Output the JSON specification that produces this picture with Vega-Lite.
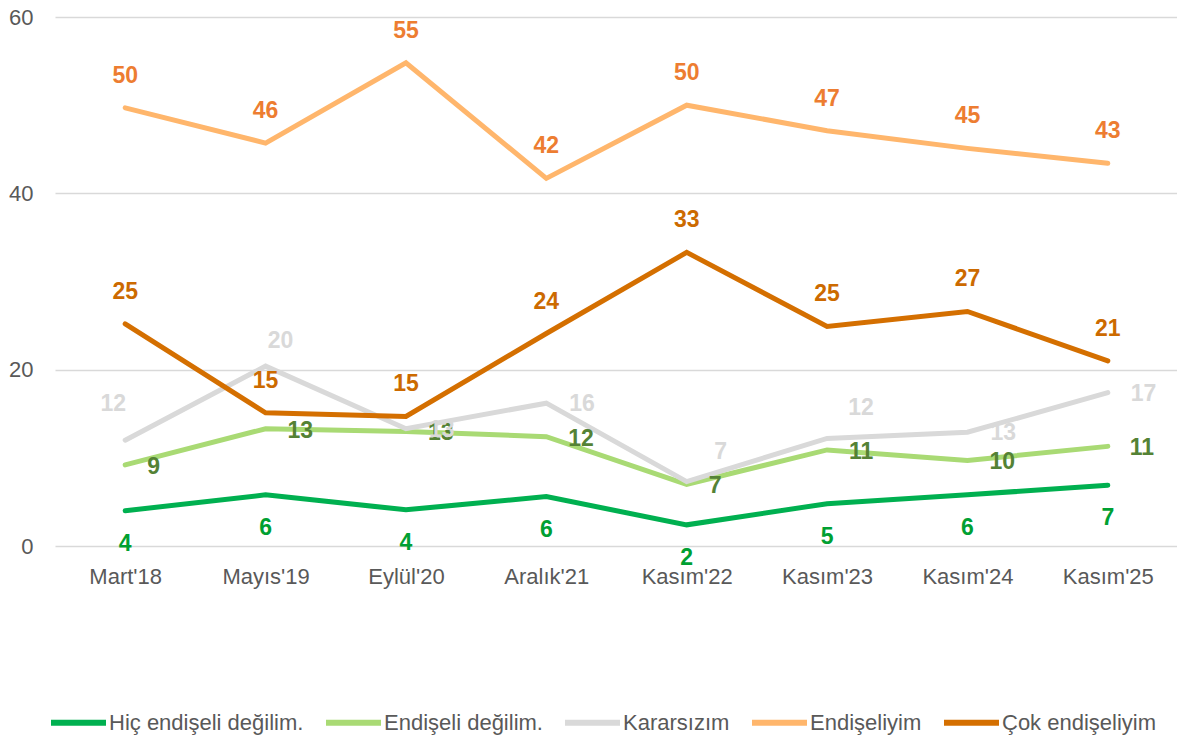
{
  "$schema": "https://vega.github.io/schema/vega-lite/v6.json",
  "width": 1123,
  "height": 529,
  "autosize": {"type": "none"},
  "padding": {"left": 55, "top": 17, "right": 0, "bottom": 194},
  "background": "white",
  "config": {
    "view": {"stroke": null},
    "font": "Liberation Sans",
    "axis": {"labelFont": "Liberation Sans", "labelColor": "#595959", "labelFontSize": 22}
  },
  "data": {
    "values": [
      {"period": "Mart'18", "series": "Hiç endişeli değilim.", "value": 4.0},
      {"period": "Mayıs'19", "series": "Hiç endişeli değilim.", "value": 5.8},
      {"period": "Eylül'20", "series": "Hiç endişeli değilim.", "value": 4.1},
      {"period": "Aralık'21", "series": "Hiç endişeli değilim.", "value": 5.6},
      {"period": "Kasım'22", "series": "Hiç endişeli değilim.", "value": 2.4},
      {"period": "Kasım'23", "series": "Hiç endişeli değilim.", "value": 4.8},
      {"period": "Kasım'24", "series": "Hiç endişeli değilim.", "value": 5.8},
      {"period": "Kasım'25", "series": "Hiç endişeli değilim.", "value": 6.9},
      {"period": "Mart'18", "series": "Endişeli değilim.", "value": 9.2},
      {"period": "Mayıs'19", "series": "Endişeli değilim.", "value": 13.3},
      {"period": "Eylül'20", "series": "Endişeli değilim.", "value": 13.0},
      {"period": "Aralık'21", "series": "Endişeli değilim.", "value": 12.4},
      {"period": "Kasım'22", "series": "Endişeli değilim.", "value": 7.0},
      {"period": "Kasım'23", "series": "Endişeli değilim.", "value": 10.9},
      {"period": "Kasım'24", "series": "Endişeli değilim.", "value": 9.7},
      {"period": "Kasım'25", "series": "Endişeli değilim.", "value": 11.3},
      {"period": "Mart'18", "series": "Kararsızım", "value": 12.0},
      {"period": "Mayıs'19", "series": "Kararsızım", "value": 20.4},
      {"period": "Eylül'20", "series": "Kararsızım", "value": 13.3},
      {"period": "Aralık'21", "series": "Kararsızım", "value": 16.2},
      {"period": "Kasım'22", "series": "Kararsızım", "value": 7.3},
      {"period": "Kasım'23", "series": "Kararsızım", "value": 12.2},
      {"period": "Kasım'24", "series": "Kararsızım", "value": 12.9},
      {"period": "Kasım'25", "series": "Kararsızım", "value": 17.4},
      {"period": "Mart'18", "series": "Endişeliyim", "value": 49.7},
      {"period": "Mayıs'19", "series": "Endişeliyim", "value": 45.7},
      {"period": "Eylül'20", "series": "Endişeliyim", "value": 54.8},
      {"period": "Aralık'21", "series": "Endişeliyim", "value": 41.7},
      {"period": "Kasım'22", "series": "Endişeliyim", "value": 50.0},
      {"period": "Kasım'23", "series": "Endişeliyim", "value": 47.1},
      {"period": "Kasım'24", "series": "Endişeliyim", "value": 45.1},
      {"period": "Kasım'25", "series": "Endişeliyim", "value": 43.4},
      {"period": "Mart'18", "series": "Çok endişeliyim", "value": 25.2},
      {"period": "Mayıs'19", "series": "Çok endişeliyim", "value": 15.1},
      {"period": "Eylül'20", "series": "Çok endişeliyim", "value": 14.7},
      {"period": "Aralık'21", "series": "Çok endişeliyim", "value": 24.1},
      {"period": "Kasım'22", "series": "Çok endişeliyim", "value": 33.3},
      {"period": "Kasım'23", "series": "Çok endişeliyim", "value": 24.9},
      {"period": "Kasım'24", "series": "Çok endişeliyim", "value": 26.6},
      {"period": "Kasım'25", "series": "Çok endişeliyim", "value": 21.0}
    ]
  },
  "encoding": {
    "x": {
      "field": "period", "type": "ordinal",
      "sort": ["Mart'18", "Mayıs'19", "Eylül'20", "Aralık'21", "Kasım'22", "Kasım'23", "Kasım'24", "Kasım'25"],
      "scale": {"type": "point", "padding": 0.5},
      "axis": {"title": null, "labelAngle": 0, "ticks": false, "domain": false, "grid": false, "labelPadding": 20}
    },
    "y": {
      "field": "value", "type": "quantitative",
      "scale": {"domain": [0, 60]},
      "axis": {"title": null, "values": [0, 20, 40, 60], "ticks": false, "domain": false, "grid": true, "gridColor": "#D9D9D9", "gridWidth": 1.5, "labelPadding": 22}
    }
  },
  "layer": [
    {
      "mark": {"type": "line", "strokeWidth": 5, "strokeCap": "round", "strokeJoin": "miter"},
      "encoding": {
        "color": {
          "field": "series", "type": "nominal",
          "scale": {
            "domain": ["Hiç endişeli değilim.", "Endişeli değilim.", "Kararsızım", "Endişeliyim", "Çok endişeliyim"],
            "range": ["#00B050", "#A9DA74", "#D9D9D9", "#FFB66C", "#D46F00"]
          },
          "legend": {
            "title": null, "orient": "none", "direction": "horizontal", "columns": 5,
            "legendX": -7, "legendY": 675,
            "symbolType": "stroke", "symbolSize": 3025, "symbolStrokeWidth": 6,
            "labelFont": "Liberation Sans", "labelFontSize": 22, "labelColor": "#595959",
            "labelOffset": 0, "columnPadding": 10, "labelLimit": 400
          }
        }
      }
    },
    {
      "transform": [{"filter": "datum.series === 'Hiç endişeli değilim.'"}],
      "mark": {"type": "text", "dy": 33, "fontSize": 23, "fontWeight": "bold", "color": "#00A032"},
      "encoding": {"text": {"field": "value", "format": ".0f"}}
    },
    {
      "transform": [{"filter": "datum.series === 'Endişeli değilim.'"}],
      "mark": {"type": "text", "dx": 22, "dy": 2, "align": "left", "fontSize": 23, "fontWeight": "bold", "color": "#548235"},
      "encoding": {"text": {"field": "value", "format": ".0f"}}
    },
    {
      "transform": [{"filter": "datum.series === 'Kararsızım' && indexof(['Eylül\\'20','Aralık\\'21','Kasım\\'24','Kasım\\'25'], datum.period) >= 0"}],
      "mark": {"type": "text", "dx": 23, "dy": 1, "align": "left", "fontSize": 23, "fontWeight": "bold", "color": "#D9D9D9"},
      "encoding": {"text": {"field": "value", "format": ".0f"}}
    },
    {
      "transform": [{"filter": "datum.series === 'Kararsızım' && indexof(['Kasım\\'22','Kasım\\'23'], datum.period) >= 0"}],
      "mark": {"type": "text", "dx": 34, "dy": -30, "align": "center", "fontSize": 23, "fontWeight": "bold", "color": "#D9D9D9"},
      "encoding": {"text": {"field": "value", "format": ".0f"}}
    },
    {
      "transform": [{"filter": "datum.series === 'Kararsızım' && datum.period === 'Mayıs\\'19'"}],
      "mark": {"type": "text", "dx": 15, "dy": -25, "align": "center", "fontSize": 23, "fontWeight": "bold", "color": "#D9D9D9"},
      "encoding": {"text": {"field": "value", "format": ".0f"}}
    },
    {
      "transform": [{"filter": "datum.series === 'Kararsızım' && datum.period === 'Mart\\'18'"}],
      "mark": {"type": "text", "dx": -12, "dy": -36, "align": "center", "fontSize": 23, "fontWeight": "bold", "color": "#D9D9D9"},
      "encoding": {"text": {"field": "value", "format": ".0f"}}
    },
    {
      "transform": [{"filter": "datum.series === 'Endişeliyim'"}],
      "mark": {"type": "text", "dy": -32, "fontSize": 23, "fontWeight": "bold", "color": "#ED7D31"},
      "encoding": {"text": {"field": "value", "format": ".0f"}}
    },
    {
      "transform": [{"filter": "datum.series === 'Çok endişeliyim'"}],
      "mark": {"type": "text", "dy": -32, "fontSize": 23, "fontWeight": "bold", "color": "#CC6A00"},
      "encoding": {"text": {"field": "value", "format": ".0f"}}
    }
  ]
}
